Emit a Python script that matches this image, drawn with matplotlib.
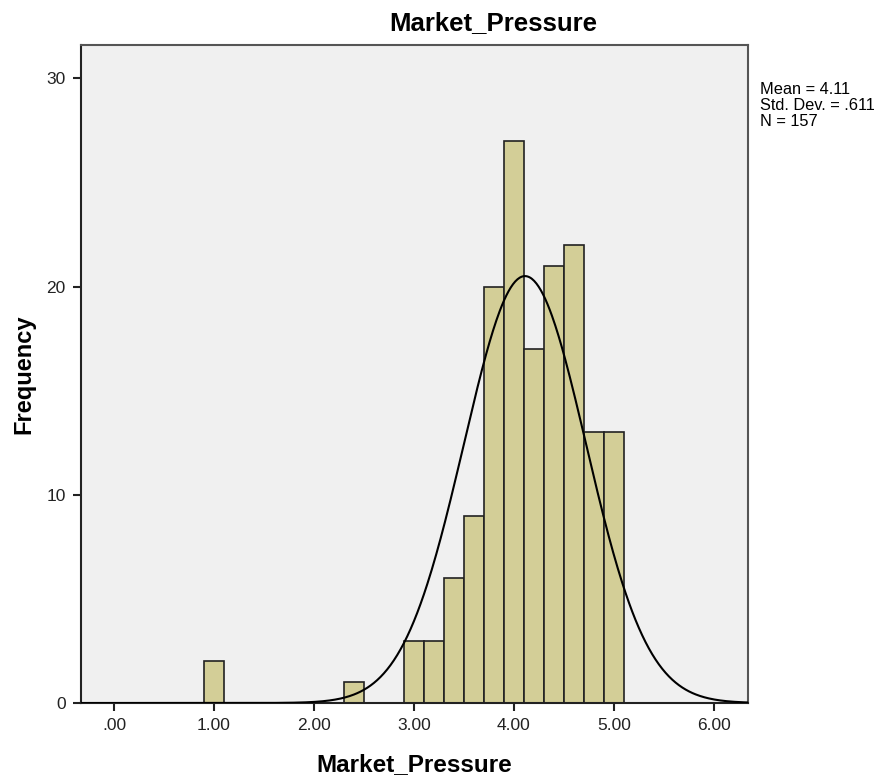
import matplotlib.pyplot as plt
import numpy as np

plt.rcParams['font.family'] = ['Liberation Sans', 'DejaVu Sans']

# Histogram bins (width 0.2) and their counts
bin_left = [0.9, 2.3, 2.9, 3.1, 3.3, 3.5, 3.7, 3.9, 4.1, 4.3, 4.5, 4.7, 4.9]
counts = [2, 1, 3, 3, 6, 9, 20, 27, 17, 21, 22, 13, 13]
bin_width = 0.2

mean = 4.11
std = 0.611
n = 157

x_ticks = [0, 1, 2, 3, 4, 5, 6]
x_tick_labels = ['.00', '1.00', '2.00', '3.00', '4.00', '5.00', '6.00']
y_ticks = [0, 10, 20, 30]

fig = plt.figure(figsize=(8.88, 7.8), dpi=100)
ax = fig.add_axes([0.0912, 0.0987, 0.7511, 0.8436])
ax.set_facecolor('#f0f0f0')

ax.bar(bin_left, counts, width=bin_width, align='edge',
       color='#d3ce97', edgecolor='#222222', linewidth=1.2, zorder=2)

# Fitted normal curve scaled to counts
xs = np.linspace(-0.33, 6.34, 600)
pdf = np.exp(-0.5 * ((xs - mean) / std) ** 2) / (std * np.sqrt(2 * np.pi))
ax.plot(xs, n * bin_width * pdf, color='black', linewidth=1.5, zorder=3)

ax.set_xlim(-0.33, 6.34)
ax.set_ylim(0, 31.6)
ax.set_xticks(x_ticks)
ax.set_xticklabels(x_tick_labels)
ax.set_yticks(y_ticks)
ax.tick_params(axis='both', direction='out', length=6, width=1.5,
               labelsize=12.5, colors='#222222', pad=5)

for side in ['left', 'bottom']:
    ax.spines[side].set_color('#222222')
    ax.spines[side].set_linewidth(1.5)
for side in ['top', 'right']:
    ax.spines[side].set_color('#555555')
    ax.spines[side].set_linewidth(1.5)

# Chart title sits centred over plot plus stats panel
fig.text(0.556, 0.970, 'Market_Pressure', fontsize=18.5, fontweight='bold',
         ha='center', va='center')
ax.set_xlabel('Market_Pressure', fontsize=17.5, fontweight='bold', labelpad=14)
ax.set_ylabel('Frequency', fontsize=17, fontweight='bold', labelpad=8)

fig.text(0.856, 0.895, 'Mean = 4.11\nStd. Dev. = .611\nN = 157',
         fontsize=11.8, va='top', ha='left', linespacing=1.1)

fig.savefig('out.png', dpi=100)
